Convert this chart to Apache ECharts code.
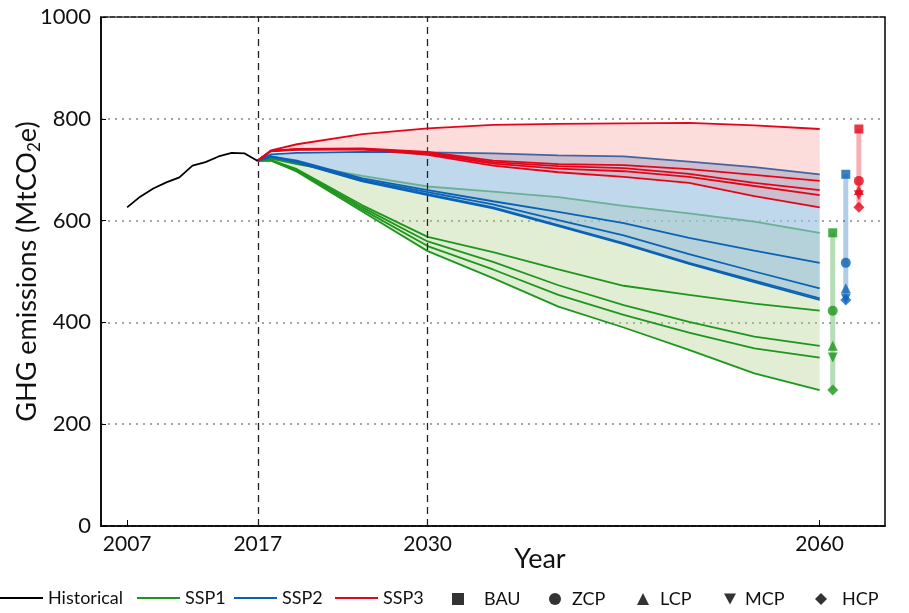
<!DOCTYPE html>
<html>
<head>
<meta charset="utf-8">
<script src="https://cdn.jsdelivr.net/npm/echarts@6/dist/echarts.min.js"></script>
<style>
  html, body { margin: 0; padding: 0; background: #fff; }
  #chart { width: 909px; height: 613px; }
</style>
</head>
<body>
<div id="chart"></div>
<script>
// Historical emissions (MtCO2e)
const histYears  = [2007, 2008, 2009, 2010, 2011, 2012, 2013, 2014, 2015, 2016, 2017];
const histValues = [626, 647, 663, 675, 685, 708, 715, 726, 733, 732, 717];

// Projection years shared by every scenario run
const projYears = [2017, 2018, 2020, 2025, 2030, 2035, 2040, 2045, 2050, 2055, 2060];

// SSP1 runs
const ssp1Bau = [718, 722, 711, 688, 667, 657, 646, 629, 614, 598, 576];
const ssp1Zcp = [718, 719, 701, 630, 568, 538, 504, 472, 454, 437, 423];
const ssp1Lcp = [718, 719, 699, 626, 559, 519, 473, 434, 401, 372, 354];
const ssp1Mcp = [718, 718, 698, 622, 550, 504, 454, 415, 380, 349, 331];
const ssp1Hcp = [718, 718, 696, 618, 540, 487, 431, 390, 346, 300, 267];

// SSP2 runs
const ssp2Bau = [718, 730, 733, 735, 734, 732, 728, 726, 716, 705, 691];
const ssp2Zcp = [718, 726, 718, 683, 660, 638, 617, 595, 566, 541, 517];
const ssp2Lcp = [718, 726, 716, 680, 656, 632, 601, 571, 534, 500, 467];
const ssp2Mcp = [718, 725, 715, 678, 652, 626, 591, 556, 517, 482, 447];
const ssp2Hcp = [718, 725, 714, 677, 650, 624, 589, 554, 515, 479, 444];

// SSP3 runs
const ssp3Bau = [718, 738, 750, 770, 781, 788, 790, 791, 792, 787, 780];
const ssp3Zcp = [718, 737, 741, 742, 735, 718, 711, 709, 701, 690, 678];
const ssp3Lcp = [718, 737, 740, 741, 733, 715, 707, 703, 692, 674, 660];
const ssp3Mcp = [718, 737, 740, 740, 731, 712, 702, 697, 686, 668, 650];
const ssp3Hcp = [718, 736, 739, 740, 729, 708, 695, 686, 674, 648, 626];

// Axis ticks and reference years
const xTickValues = [2007, 2017, 2030, 2060];
const refYears = [2017, 2030];
// Columns summarising the 2060 spread of each SSP
const summaryYears = [2061, 2062, 2063];

const policyNames = ['BAU', 'ZCP', 'LCP', 'MCP', 'HCP'];
const sspNames = ['SSP1', 'SSP2', 'SSP3'];

const ssps = [
  { name: sspNames[0], color: '#1d961d', fill: 'rgba(170,205,130,0.35)', bar: 'rgba(29,150,29,0.32)',
    runs: [ssp1Bau, ssp1Zcp, ssp1Lcp, ssp1Mcp, ssp1Hcp] },
  { name: sspNames[1], color: '#0b62b5', fill: 'rgba(153,192,224,0.62)', bar: 'rgba(11,98,181,0.32)',
    runs: [ssp2Bau, ssp2Zcp, ssp2Lcp, ssp2Mcp, ssp2Hcp] },
  { name: sspNames[2], color: '#e3061a', fill: 'rgba(247,109,109,0.24)', bar: 'rgba(227,6,26,0.32)',
    runs: [ssp3Bau, ssp3Zcp, ssp3Lcp, ssp3Mcp, ssp3Hcp] }
];

const pairs = (xs, ys) => xs.map((x, i) => [x, ys[i]]);
const last = arr => arr[arr.length - 1];

const FONT = 'Lato, "Noto Sans", sans-serif';
const series = [];

ssps.forEach((s, k) => {
  const base = 2 + 2 * k;
  const bau = s.runs[0], hcp = s.runs[4];
  // shaded range between the highest (BAU) and lowest (HCP) run
  series.push({
    type: 'custom', name: s.name + ' range', silent: true, z: base,
    data: [[projYears[0], bau[0]]],
    renderItem: (params, api) => {
      const upper = projYears.map((x, i) => api.coord([x, bau[i]]));
      const lower = projYears.map((x, i) => api.coord([x, hcp[i]])).reverse();
      return { type: 'polygon', shape: { points: upper.concat(lower) }, style: { fill: s.fill } };
    }
  });
  s.runs.forEach(run => {
    series.push({
      type: 'line', name: s.name, data: pairs(projYears, run), symbol: 'none',
      lineStyle: { color: s.color, width: 1.8 }, itemStyle: { color: s.color }, z: base + 1
    });
  });
});

series.push({
  type: 'line', name: 'Historical', data: pairs(histYears, histValues), symbol: 'none',
  lineStyle: { color: '#000', width: 1.8 }, itemStyle: { color: '#000' }, z: 10,
  markLine: {
    silent: true, symbol: 'none', label: { show: false },
    lineStyle: { color: '#222', type: [7, 5], width: 1.3 },
    data: refYears.map(x => ({ xAxis: x }))
  }
});

// 2060 spread columns
ssps.forEach((s, k) => {
  series.push({
    type: 'line', name: s.name + ' spread', silent: true, symbol: 'none',
    data: [[summaryYears[k], last(s.runs[4])], [summaryYears[k], last(s.runs[0])]],
    lineStyle: { color: s.bar, width: 5 }, z: 11
  });
});

const shapes = ['rect', 'circle', 'triangle', 'triangle', 'diamond'];
const sizes = [9, 10, 10, 10, 11];
policyNames.forEach((p, j) => {
  series.push({
    type: 'scatter', name: p, symbol: shapes[j], symbolSize: sizes[j],
    symbolRotate: j === 3 ? 180 : 0, itemStyle: { color: '#000' }, z: 12,
    data: ssps.map((s, k) => ({ value: [summaryYears[k], last(s.runs[j])], itemStyle: { color: s.color } }))
  });
});

// legend row
const legends = [];
const lineLegendLeft = [0, 137, 234, 335];
['Historical'].concat(sspNames).forEach((n, i) => {
  legends.push({
    left: lineLegendLeft[i], top: 589, padding: 0, itemWidth: 43, itemHeight: 2, selectedMode: false,
    data: [{ name: n, icon: 'rect' }],
    textStyle: { fontFamily: FONT, fontSize: 18, color: '#111' }
  });
});
const markerLegendLeft = [452, 549, 637, 724, 815];
const markerTextLeft = [484, 572, 660, 745, 842];
const icons = ['rect', 'circle', 'triangle', 'path://M0,0L10,0L5,9Z', 'diamond'];
policyNames.forEach((n, j) => {
  legends.push({
    left: markerLegendLeft[j], top: 590, padding: 0, itemWidth: 12, itemHeight: 12, selectedMode: false,
    data: [{ name: n, icon: icons[j], itemStyle: { color: '#000' } }],
    textStyle: { fontFamily: FONT, fontSize: 18, color: '#111',
      padding: [0, 0, 0, markerTextLeft[j] - markerLegendLeft[j] - 17] }
  });
});

const chart = echarts.init(document.getElementById('chart'), null, { renderer: 'canvas' });
chart.setOption({
  animation: false,
  backgroundColor: '#fff',
  grid: { left: 101, right: 24, top: 17, bottom: 87, show: true, borderColor: '#000', borderWidth: 1.5 },
  legend: legends,
  xAxis: {
    type: 'value', min: 2005, max: 2065,
    name: 'Year', nameLocation: 'middle', nameGap: 20, nameMoveOverlap: false,
    nameTextStyle: { fontFamily: FONT, fontSize: 27, color: '#111', padding: [0, 0, 0, 94] },
    axisLine: { lineStyle: { color: '#000', width: 1.5 } },
    axisTick: { inside: true, length: 6, customValues: xTickValues, lineStyle: { color: '#000' } },
    axisLabel: { customValues: xTickValues, fontFamily: FONT, fontSize: 21, color: '#111', margin: 8,
      formatter: v => String(v) },
    splitLine: { show: false }
  },
  yAxis: {
    type: 'value', min: 0, max: 1000, interval: 200,
    name: 'GHG emissions (MtCO{sub|2}e)', nameLocation: 'middle', nameGap: 58, nameMoveOverlap: false,
    nameTextStyle: { fontFamily: FONT, fontSize: 27, color: '#111',
      rich: { sub: { fontFamily: FONT, fontSize: 17, color: '#111', padding: [14, 0, 0, 0] } } },
    axisLine: { show: true, lineStyle: { color: '#000', width: 1.5 } },
    axisTick: { show: true, inside: true, length: 5, lineStyle: { color: '#000' } },
    axisLabel: { fontFamily: FONT, fontSize: 22, color: '#111', margin: 10, formatter: v => String(v) },
    splitLine: { show: true, lineStyle: { color: '#888', type: [2, 5], width: 1.5 } }
  },
  series: series
});
</script>
</body>
</html>
